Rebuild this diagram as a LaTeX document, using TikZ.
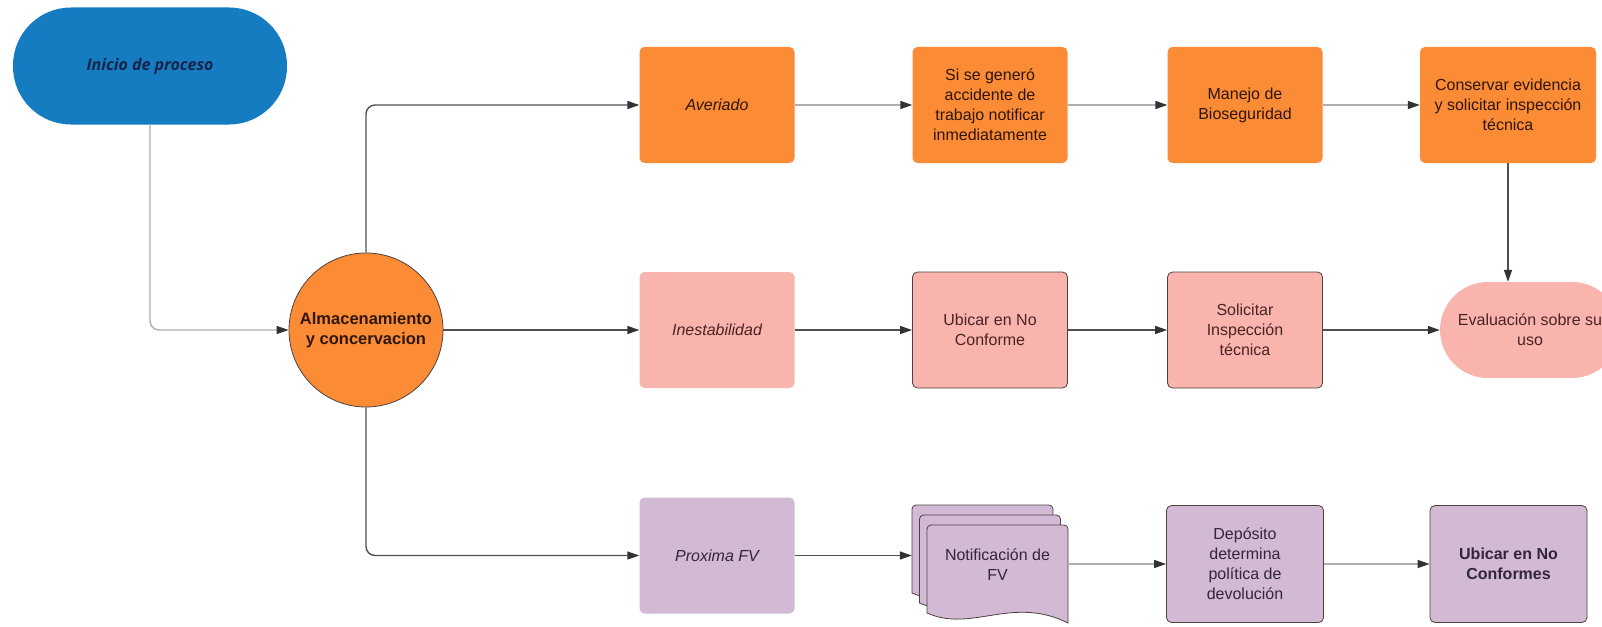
\documentclass[tikz,border=0pt]{standalone}
\usepackage{fontspec}
\setmainfont{Liberation Sans}
\newfontfamily\inifont{Open Sans}
\usetikzlibrary{arrows.meta}
\definecolor{cblue}{RGB}{22,124,193}
\definecolor{cnavy}{RGB}{22,35,75}
\definecolor{corange}{RGB}{252,139,54}
\definecolor{cpink}{RGB}{248,180,173}
\definecolor{cpurple}{RGB}{210,186,212}
\definecolor{tdark}{RGB}{45,22,10}
\definecolor{tpink}{RGB}{75,35,35}
\definecolor{tpurple}{RGB}{50,38,55}
\definecolor{ldark}{RGB}{80,80,80}
\definecolor{llight}{RGB}{175,175,175}
\definecolor{tipc}{RGB}{50,50,50}
\definecolor{bord}{RGB}{80,65,65}
\tikzset{
  txt/.style={font=\fontsize{16}{20}\selectfont, align=center},
  pbox/.style={txt, rectangle, rounded corners=5pt, minimum width=155pt, minimum height=116pt, inner sep=2pt},
  orangebox/.style={pbox, fill=corange, text=tdark},
  pinkbox/.style={pbox, fill=cpink, text=tpink},
  purplebox/.style={pbox, fill=cpurple, text=tpurple},
  edged/.style={draw=bord, line width=0.8pt},
  conn/.style={line width=1.4pt, rounded corners=9pt, -{Triangle[length=12pt,width=8pt,color=tipc]}},
  docpage/.style={fill=cpurple, draw=bord, line width=0.8pt}
}
\newcommand\docpage[2]{%
  \draw[docpage, shift={(#1,#2)}] (0,88) [rounded corners=4pt] -- (0,0) -- (141,0) [sharp corners] -- (141,98)
    .. controls (85,70) and (45,108) .. (0,88) -- cycle;}
\begin{document}
\begin{tikzpicture}[x=1pt,y=-1pt]
\useasboundingbox (0,0) rectangle (1602,626);
\clip (0,0) rectangle (1602,626);
\fill[white] (0,0) rectangle (1602,626);

% start
\node[fill=cblue, rounded corners=58pt, minimum width=274pt, minimum height=117pt,
      font=\inifont\fontsize{16}{20}\selectfont\bfseries\itshape, text=cnavy] (inicio) at (150,66) {Inicio de proceso};

% central circle
\node[circle, fill=corange, edged, minimum size=154pt, inner sep=0pt, align=center,
      font=\fontsize{16.5}{20}\selectfont\bfseries, text=tdark] (alm) at (366,330) {Almacenamiento\\y concervacion};

% row 1
\node[orangebox, font=\fontsize{16}{20}\selectfont\itshape] (ave) at (717,105) {Averiado};
\node[orangebox] (gen) at (990,105) {Si se generó\\accidente de\\trabajo notificar\\inmediatamente};
\node[orangebox] (man) at (1245,105) {Manejo de\\Bioseguridad};
\node[orangebox, minimum width=176pt] (cons) at (1508,105) {Conservar evidencia\\y solicitar inspección\\técnica};

% row 2
\node[pinkbox, font=\fontsize{16}{20}\selectfont\itshape] (ines) at (717,330) {Inestabilidad};
\node[pinkbox, edged] (ubi) at (990,330) {Ubicar en No\\Conforme};
\node[pinkbox, edged] (sol) at (1245,330) {Solicitar\\Inspección\\técnica};
\node[txt, fill=cpink, text=tpink, rounded corners=48pt, minimum width=180pt, minimum height=96pt] (eval) at (1530,330) {Evaluación sobre su\\uso};

% row 3
\node[purplebox, font=\fontsize{16}{20}\selectfont\itshape] (prox) at (717,555.5) {Proxima FV};
\docpage{912}{505}
\docpage{919.5}{515}
\docpage{927}{525}
\node[minimum width=156pt, minimum height=118pt, inner sep=0pt] (notif) at (990,564) {};
\node[txt, text=tpurple] (notiftxt) at (997.5,565) {Notificación de\\FV};
\node[purplebox, edged, minimum width=157pt, minimum height=117pt] (dep) at (1245,564) {Depósito\\determina\\política de\\devolución};
\node[purplebox, edged, minimum width=157pt, minimum height=117pt, font=\fontsize{16}{20}\selectfont\bfseries] (ubnc) at (1508.5,564) {Ubicar en No\\Conformes};

% connectors
\draw[conn, draw=llight] (inicio.south) |- (alm.west);
\draw[conn, draw=ldark] (alm.north) |- (ave.west);
\draw[conn, draw=ldark] (alm) -- (ines);
\draw[conn, draw=ldark] (alm.south) |- (prox.west);

\draw[conn, draw=llight] (ave) -- (gen);
\draw[conn, draw=llight] (gen) -- (man);
\draw[conn, draw=llight] (man) -- (cons);
\draw[conn, draw=ldark] (cons.south) -- (cons.south |- eval.north);

\draw[conn, draw=ldark] (ines) -- (ubi);
\draw[conn, draw=ldark] (ubi) -- (sol);
\draw[conn, draw=ldark] (sol) -- (eval);

\draw[conn, draw=ldark] (prox.east) -- (prox.east -| notif.west);
\draw[conn, draw=llight] (notif.east) -- (dep.west);
\draw[conn, draw=llight] (dep) -- (ubnc);
\end{tikzpicture}
\end{document}
